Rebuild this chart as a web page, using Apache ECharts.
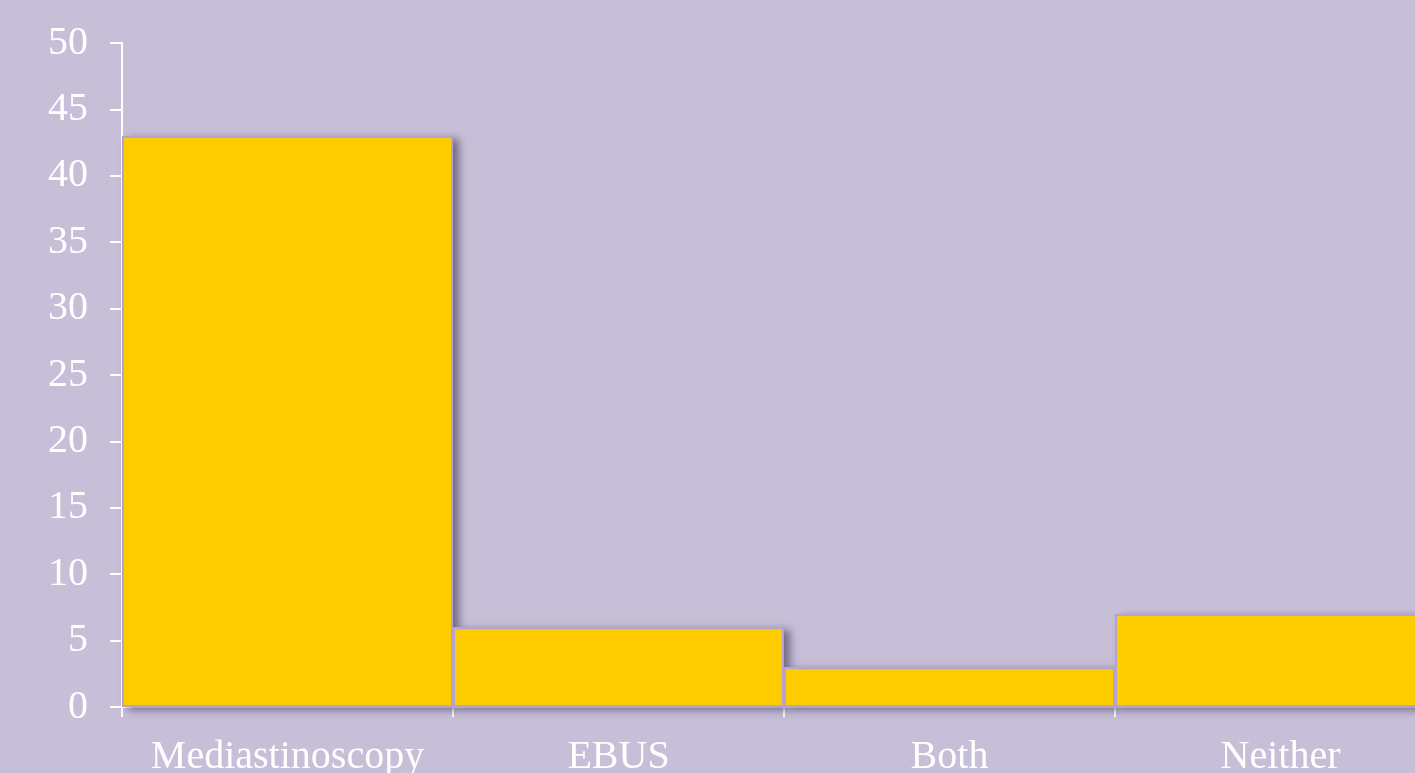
<!DOCTYPE html>
<html><head><meta charset="utf-8">
<script src="https://cdn.jsdelivr.net/npm/echarts@6/dist/echarts.min.js"></script>
<style>html,body{margin:0;padding:0;background:#C7BED7;}#c{width:1415px;height:773px;}</style>
</head><body><div id="c"></div>
<script>
const categories = ['Mediastinoscopy', 'EBUS', 'Both', 'Neither'];
const values = [43, 6, 3, 7];
const yMin = 0, yMax = 50, yStep = 5;

const chart = echarts.init(document.getElementById('c'));
chart.setOption({
  backgroundColor: '#C7BED7',
  animation: false,
  grid: { left: 122, top: 43, width: 1324, height: 664, outerBoundsMode: 'none', containLabel: false },
  xAxis: {
    type: 'category', data: categories, boundaryGap: true,
    axisLine: { show: true, lineStyle: { color: '#FFFFFF', width: 2 } },
    axisTick: { show: true, alignWithLabel: false, length: 10, lineStyle: { color: '#FFFFFF', width: 2 } },
    axisLabel: { color: '#FFFFFF', fontFamily: 'Liberation Serif', fontSize: 40, margin: 30, interval: 0 },
    splitLine: { show: false }
  },
  yAxis: {
    type: 'value', min: yMin, max: yMax, interval: yStep,
    axisLine: { show: true, lineStyle: { color: '#FFFFFF', width: 2 } },
    axisTick: { show: true, length: 12, lineStyle: { color: '#FFFFFF', width: 2 } },
    axisLabel: { color: '#FFFFFF', fontFamily: 'Liberation Serif', fontSize: 40, margin: 34 },
    splitLine: { show: false }
  },
  series: [{
    type: 'bar', data: values, barCategoryGap: '0%', barGap: '-100%', z: 2,
    itemStyle: {
      color: '#FFCC00', borderWidth: 0,
      shadowColor: 'rgba(60,50,80,0.6)', shadowBlur: 8, shadowOffsetX: 6, shadowOffsetY: 3
    }
  }, {
    type: 'bar', data: values, barCategoryGap: '0%', barGap: '-100%', z: 3, silent: true,
    itemStyle: { color: 'rgba(0,0,0,0)', borderColor: '#B2A3D2', borderWidth: 2 }
  }]
});
</script></body></html>
